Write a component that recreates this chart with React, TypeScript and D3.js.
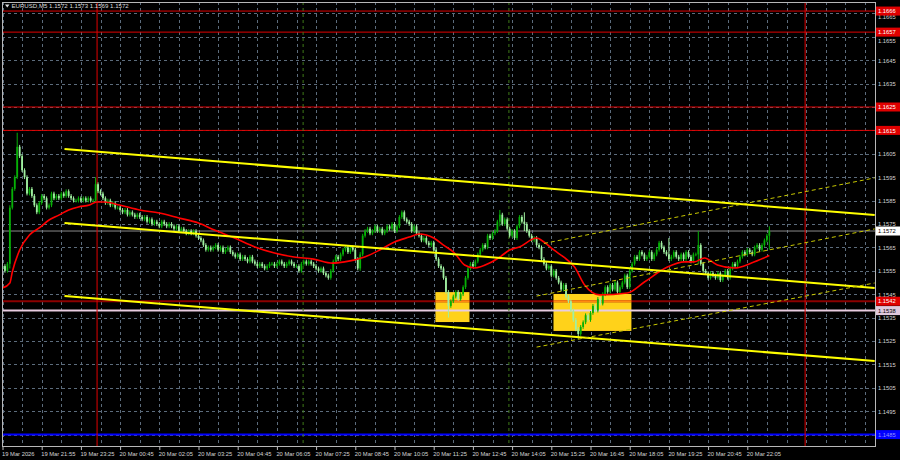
import React, { useEffect, useRef } from 'react';
import * as d3 from 'd3';

// price values stored as pips above 1.1500
const BASE = 1.15;
const firstOpen = 56;
const closePips = [
  57, 55, 58, 82, 90, 95, 108, 104, 98, 95,
  88, 90, 87, 83, 80, 84, 87, 86, 82, 83,
  88, 86, 87, 86, 88, 87, 89, 87, 86, 85,
  85, 86, 85, 86, 85, 86, 85, 85, 92, 89,
  88, 86, 84, 85, 83, 84, 82, 82, 81, 80,
  81, 79, 80, 79, 78, 79, 78, 77, 78, 76,
  77, 75, 76, 75, 74, 76, 75, 74, 75, 74,
  73, 74, 72, 73, 72, 71, 72, 71, 72, 70,
  69, 68, 66, 64, 65, 64, 65, 66, 64, 65,
  63, 64, 65, 63, 62, 61, 62, 60, 61, 60,
  59, 61, 59, 58, 57, 58, 57, 56, 57, 58,
  58, 57, 58, 59, 58, 57, 58, 59, 58, 57,
  57, 55, 58, 59, 58, 59, 58, 57, 56, 55,
  56, 54, 53, 52, 55, 59, 61, 60, 62, 64,
  65, 63, 65, 64, 60, 56, 62, 70, 72, 73,
  71, 72, 74, 72, 73, 71, 72, 74, 73, 75,
  72, 74, 78, 80, 77, 76, 75, 72, 74, 71,
  70, 68, 69, 67, 66, 67, 64, 60, 57, 56,
  52, 46, 40, 42, 44, 46, 43, 45, 48, 52,
  56, 58, 57, 59, 62, 64, 66, 65, 70, 69,
  71, 72, 76, 79, 75, 77, 73, 70, 72, 69,
  74, 78, 76, 75, 72, 70, 68, 69, 66, 65,
  60, 58, 56, 57, 53, 55, 52, 50, 47, 49,
  44, 42, 38, 34, 30, 28, 31, 33, 36, 34,
  37, 40, 38, 43, 41, 45, 48, 46, 49, 47,
  50, 46, 48, 50, 53, 48, 55, 58, 61, 60,
  63, 62, 60, 61, 63, 60, 62, 64, 67, 65,
  63, 62, 60, 61, 63, 61, 60, 62, 60, 63,
  61, 59, 62, 62, 66, 58, 55, 54, 52, 54,
  53, 52, 54, 51, 53, 55, 52, 56, 58, 57,
  59, 61, 63, 62, 64, 63, 62, 65, 66, 64,
  66, 68, 70, 72,
];
// [bar, high, low] for long wicks
const spikes = [
  [3, 83, 56], [6, 114, 96], [38, 95, 84], [146, 63, 55], [182, 46, 35],
  [203, 81, 74], [213, 80, 72], [235, 31, 26], [272, 69, 61], [284, 72, 58], [313, 74, 64],
];
// red moving average, [bar, pips]
const maBars = [0, 3, 4, 7, 11, 15, 19, 23, 27, 31, 35.5, 38.4, 41.6, 47.8, 56, 64, 72, 80, 86.5, 94.7, 103, 111, 119, 127, 134.7, 139.6, 147.8, 154, 160, 166, 170, 176, 180, 184.5, 188.6, 192.7, 198.8, 203, 207, 211, 218, 221, 225, 229, 233.5, 237.6, 243.7, 255, 262, 271.4, 278.4, 282.4, 286.5, 291.8, 298.8, 305.7, 313];
const maPips = [47.6, 49.8, 54.5, 63.9, 70.3, 73.3, 76.7, 78.8, 81, 82.3, 83.1, 84.4, 84.4, 83.1, 81, 79.7, 77.6, 75.4, 72.4, 69, 65.2, 62.6, 60.9, 60, 58.3, 58.8, 60.9, 63.9, 67.3, 69.4, 70.7, 69, 66, 62.6, 57.5, 56.2, 58.3, 60.9, 63.9, 65.2, 69, 67.3, 63.9, 60.9, 56.6, 48.9, 44.7, 45.5, 50.2, 56.6, 58.8, 58.8, 60.5, 57.5, 56.2, 58.3, 61.5];

const gridPrices = [1.1665, 1.1655, 1.1645, 1.1635, 1.1625, 1.1615, 1.1605, 1.1595, 1.1585, 1.1575, 1.1565, 1.1555, 1.1545, 1.1535, 1.1525, 1.1515, 1.1505, 1.1495, 1.1485];
const priceLabels = [1.1665, 1.1655, 1.1645, 1.1635, 1.1605, 1.1595, 1.1585, 1.1575, 1.1565, 1.1555, 1.1545, 1.1535, 1.1525, 1.1515, 1.1505, 1.1495];
const timeLabels = ['19 Mar 2026', '19 Mar 21:55', '19 Mar 23:25', '20 Mar 00:45', '20 Mar 02:05', '20 Mar 03:25', '20 Mar 04:45', '20 Mar 06:05', '20 Mar 07:25', '20 Mar 08:45', '20 Mar 10:05', '20 Mar 11:25', '20 Mar 12:45', '20 Mar 14:05', '20 Mar 15:25', '20 Mar 16:45', '20 Mar 18:05', '20 Mar 19:25', '20 Mar 20:45', '20 Mar 22:05'];

const redLevels = [1.1666, 1.1657, 1.1625, 1.1615];
const supportLevel = 1.1542;
const pinkLevel = 1.1538;
const blueLevel = 1.1485;
const lastPrice = 1.1572;

// [bar0, price0, bar1, price1]
const channelLines = [
  [25.3, 1.16071, 356, 1.15788],
  [25.3, 1.15754, 356, 1.15477],
  [25.3, 1.15442, 356, 1.15165],
];
const dashedLines = [
  [221, 1.15667, 356, 1.15947],
  [218, 1.15442, 356, 1.15729],
  [218, 1.15224, 356, 1.15498],
];
// [bar0, bar1, top, bottom]
const boxes = [
  [176.7, 190.6, 1.15459, 1.15331],
  [224.9, 256.7, 1.15451, 1.15293],
];
const redVLines = [38.6, 327.6];
const greenVLines = [122.7, 206.7];

const FONT = 'Liberation Sans, Arial, sans-serif';

export default function App() {
  const W = 900, H = 460;
  const L = 2, T = 2, R = 876, B = 447;
  const x = d3.scaleLinear().domain([0, 356]).range([2.5, 2.5 + 356 * 2.45]);
  const y = d3.scaleLinear().domain([1.1485, 1.1665]).range([434.6, 13.4]);
  const p = (v: number) => y(BASE + v / 10000);
  const yAxisRef = useRef<SVGGElement>(null);
  const xAxisRef = useRef<SVGGElement>(null);

  useEffect(() => {
    // price labels hidden under the coloured tags are left out, the tags carry them
    const ya = d3.axisRight(y).tickValues(priceLabels).tickFormat(d3.format('.4f')).tickSize(0).tickPadding(2);
    const gy = d3.select(yAxisRef.current!).call(ya as any);
    gy.select('.domain').remove();
    gy.attr('font-size', null).attr('font-family', null);
    gy.selectAll('text').attr('fill', '#d4d4d4').style('font-family', FONT).style('font-size', '5.8px');
    gy.selectAll<SVGGElement, number>('.tick').filter(d => d === 1.1665 || d === 1.1655)
      .select('text').attr('dy', '0.95em');

    const xa = d3.axisBottom(x).tickValues(timeLabels.map((_, k) => k * 16))
      .tickFormat((_, k) => timeLabels[k]).tickSize(3).tickPadding(2);
    const gx = d3.select(xAxisRef.current!).call(xa as any);
    gx.select('.domain').remove();
    gx.attr('font-size', null).attr('font-family', null);
    gx.selectAll('line').attr('stroke', '#c0c0c0');
    gx.selectAll('text').attr('fill', '#d4d4d4').attr('text-anchor', 'start').attr('dx', -1)
      .style('font-family', FONT).style('font-size', '5.8px');
  }, []);

  const candles = closePips.map((c, i) => {
    const o = i === 0 ? firstOpen : closePips[i - 1];
    let hi = Math.max(o, c) + 0.8;
    let lo = Math.min(o, c) - 0.8;
    const s = spikes.find(d => d[0] === i);
    if (s) { hi = Math.max(hi, s[1]); lo = Math.min(lo, s[2]); }
    return { i, o, c, hi, lo };
  });

  const maLine = d3.line<number>()
    .x((_, k) => x(maBars[k]))
    .y(v => p(v))
    .curve(d3.curveMonotoneX)(maPips);

  const vGrid = d3.range(0, 356, 8);
  const tag = (v: number, bg: string, fg: string) => (
    <g key={'t' + v}>
      <rect x={R} y={y(v) - 4.5} width={24} height={9} fill={bg} />
      <text x={R + 2} y={y(v) + 2.1} fill={fg} style={{ fontFamily: FONT, fontSize: '5.8px' }}>{v.toFixed(4)}</text>
    </g>
  );

  return (
    <div style={{ width: W, height: H, background: '#000' }}>
      <style>{'body{margin:0;background:#000}'}</style>
      <svg width={W} height={H} style={{ display: 'block' }}>
        <defs>
          <clipPath id="plot"><rect x={L} y={T} width={R - L} height={B - T} /></clipPath>
        </defs>
        <rect width={W} height={H} fill="#000" />
        <g clipPath="url(#plot)">
          {gridPrices.map(v => (
            <line key={'h' + v} x1={L} x2={R} y1={Math.round(y(v)) + 0.5} y2={Math.round(y(v)) + 0.5}
              stroke="#5c6c7c" strokeDasharray="3,3" />
          ))}
          {vGrid.map(b => (
            <line key={'v' + b} x1={Math.round(x(b)) + 0.5} x2={Math.round(x(b)) + 0.5} y1={T} y2={B}
              stroke="#5c6c7c" strokeDasharray="3,3" />
          ))}
          {boxes.map((b, k) => (
            <rect key={'b' + k} x={x(b[0])} y={y(b[2])} width={x(b[1]) - x(b[0])} height={y(b[3]) - y(b[2])} fill="#ffd21a" />
          ))}
          {redLevels.map(v => (
            <line key={'r' + v} x1={L} x2={R} y1={y(v)} y2={y(v)} stroke="#e00000" strokeWidth={1} />
          ))}
          <line x1={L} x2={R} y1={y(supportLevel)} y2={y(supportLevel)} stroke="#8c0000" strokeWidth={2} />
          {boxes.map((b, k) => (
            <line key={'bo' + k} x1={x(b[0])} x2={x(b[1])} y1={y(supportLevel)} y2={y(supportLevel)} stroke="#ff8a10" strokeWidth={2} />
          ))}
          <line x1={L} x2={R} y1={y(pinkLevel)} y2={y(pinkLevel)} stroke="#e8cce0" strokeWidth={2} />
          <line x1={L} x2={R} y1={y(lastPrice)} y2={y(lastPrice)} stroke="#8a8a8a" strokeWidth={1} />
          <line x1={L} x2={R} y1={y(blueLevel)} y2={y(blueLevel)} stroke="#0000ff" strokeWidth={2} />
          {redVLines.map(b => (
            <line key={'rv' + b} x1={x(b)} x2={x(b)} y1={T} y2={B} stroke="#e00000" strokeWidth={1} />
          ))}
          {greenVLines.map(b => (
            <line key={'gv' + b} x1={x(b)} x2={x(b)} y1={T} y2={B} stroke="#3f7a18" strokeDasharray="3,3" />
          ))}
          {candles.map(d => {
            const up = d.c >= d.o;
            const col = up ? '#06b006' : '#a0f0a0';
            const top = p(Math.max(d.o, d.c));
            const bot = p(Math.min(d.o, d.c));
            return (
              <g key={'c' + d.i}>
                <line x1={x(d.i)} x2={x(d.i)} y1={p(d.hi)} y2={p(d.lo)} stroke={col} strokeWidth={1} />
                <rect x={x(d.i) - 0.9} y={top} width={1.8} height={Math.max(bot - top, 0.8)} fill={col} />
              </g>
            );
          })}
          <path d={maLine || ''} fill="none" stroke="#ff0000" strokeWidth={1.6} />
          {channelLines.map((c, k) => (
            <line key={'ch' + k} x1={x(c[0])} y1={y(c[1])} x2={x(c[2])} y2={y(c[3])} stroke="#ffff00" strokeWidth={2} />
          ))}
          {dashedLines.map((c, k) => (
            <line key={'dl' + k} x1={x(c[0])} y1={y(c[1])} x2={x(c[2])} y2={y(c[3])} stroke="#c8c800" strokeWidth={1} strokeDasharray="4,3" />
          ))}
        </g>
        <rect x={L + 0.5} y={T + 0.5} width={R - L - 1} height={B - T - 1} fill="none" stroke="#b8b8b8" strokeWidth={1} />
        <g ref={yAxisRef} transform={`translate(${R},0)`} />
        <g ref={xAxisRef} transform={`translate(0,${B})`} />
        {redLevels.map(v => tag(v, '#e00000', '#ffffff'))}
        {tag(lastPrice, '#ffffff', '#000000')}
        {tag(supportLevel, '#e00000', '#ffffff')}
        {tag(pinkLevel, '#e0c8dc', '#000000')}
        {tag(blueLevel, '#0000ff', '#9090ff')}
        <path d="M5,4.5 L9.5,4.5 L7.25,7.5 Z" fill="#e0e0e0" />
        <text x={11.5} y={8.3} fill="#dcdcdc" style={{ fontFamily: FONT, fontSize: '6.1px' }}>
          EURUSD,M5  1.1572 1.1573 1.1569 1.1572
        </text>
      </svg>
    </div>
  );
}
